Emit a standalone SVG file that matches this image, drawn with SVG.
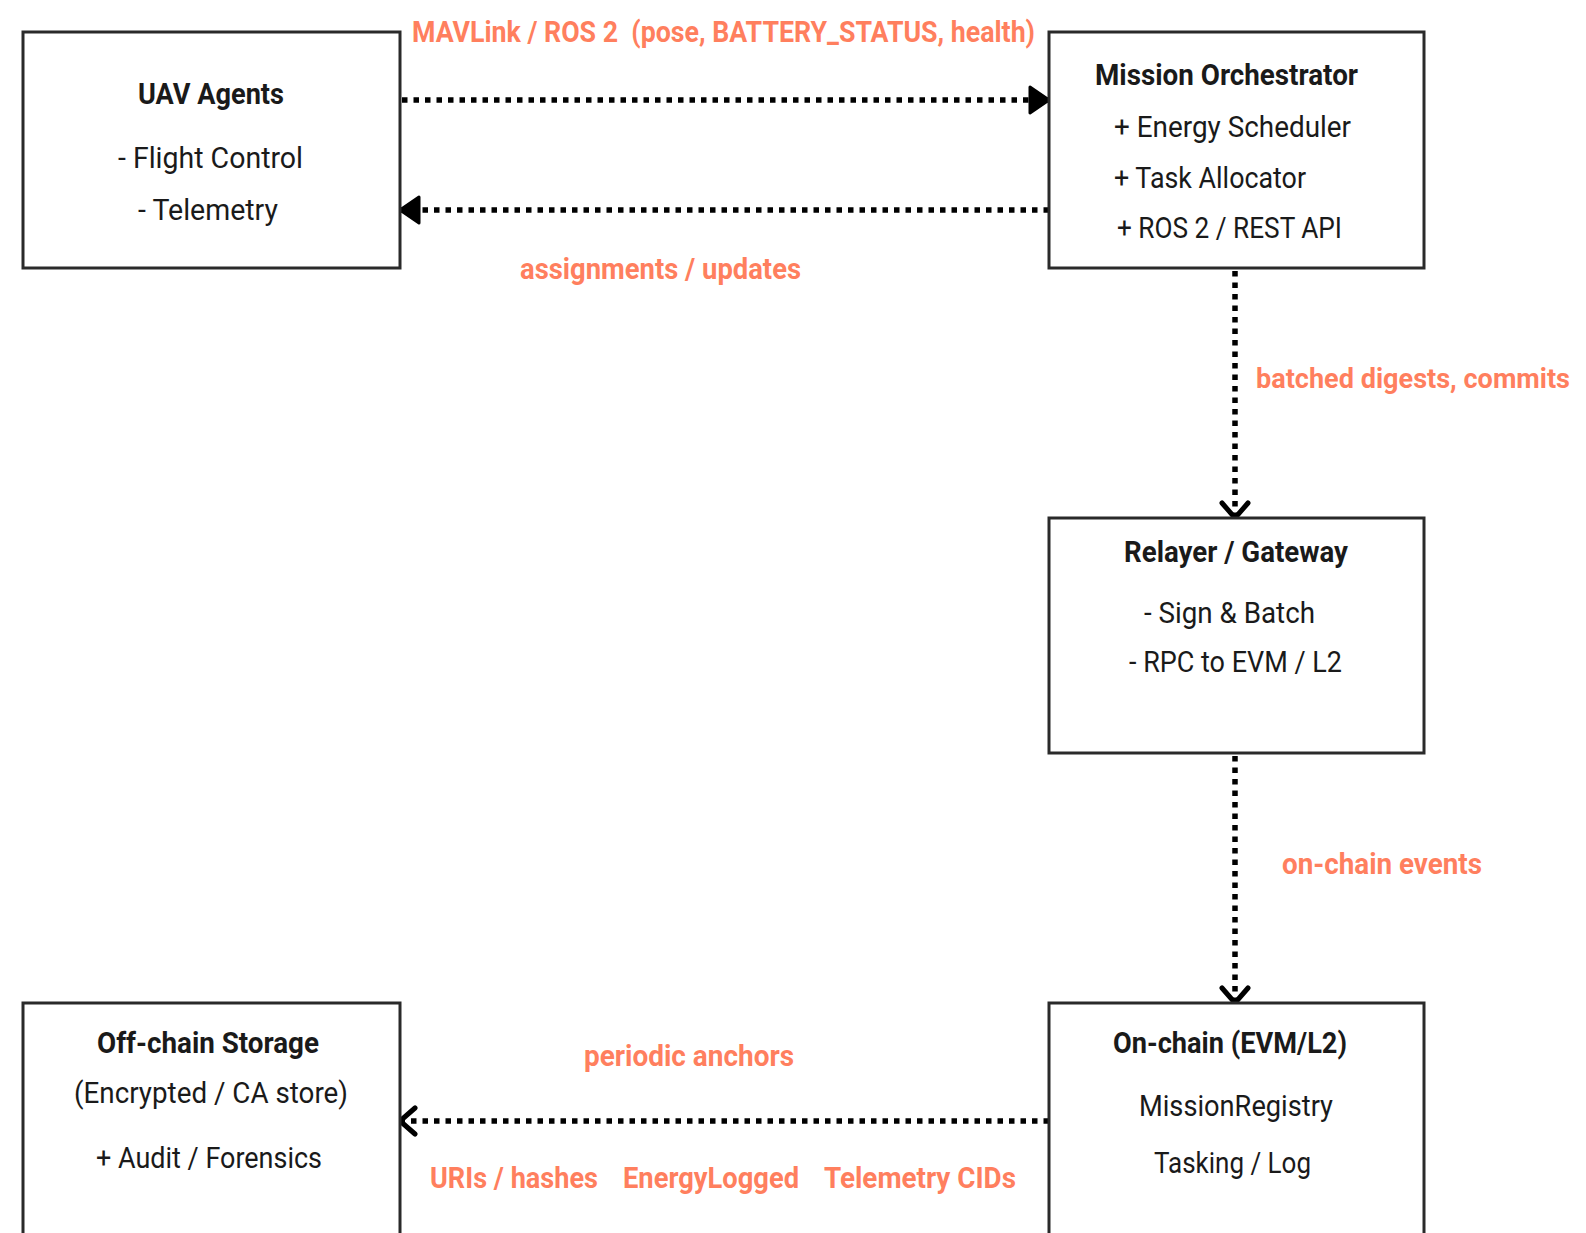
<svg xmlns="http://www.w3.org/2000/svg" width="1586" height="1233" viewBox="0 0 1586 1233">
<defs>
<style>
.box{fill:#fff;stroke:#2a2a2a;stroke-width:3}
.t{font-family:"Roboto","Liberation Sans",sans-serif;font-size:30px;fill:#1a1a1a}
.b{font-weight:bold}
.lbl{font-family:"Roboto","Liberation Sans",sans-serif;font-size:30px;font-weight:bold;fill:#FF7F5E}
.edge{fill:none;stroke:#000;stroke-width:5.5;stroke-dasharray:5.5 6}
</style>
<marker id="block" markerUnits="userSpaceOnUse" markerWidth="24" markerHeight="32" refX="21" refY="16" orient="auto">
<path d="M2,3 L21,16 L2,29 Z" fill="#000" stroke="#000" stroke-width="3" stroke-linejoin="round"/>
</marker>
<marker id="open" markerUnits="userSpaceOnUse" markerWidth="22" markerHeight="32" refX="18" refY="16" orient="auto">
<path d="M3,3 L18,16 L3,29" fill="none" stroke="#000" stroke-width="5" stroke-linejoin="miter" stroke-linecap="round"/>
</marker>
</defs>
<rect width="1586" height="1233" fill="#fff"/>
<g id="connectors">
<path class="edge" d="M402,100 L1049,100" marker-end="url(#block)"/>
<path class="edge" d="M1049,210 L400,210" marker-end="url(#block)"/>
<path class="edge" d="M1235,271 L1235,518" marker-end="url(#open)"/>
<path class="edge" d="M1235,756 L1235,1003" marker-end="url(#open)"/>
<path class="edge" d="M1049,1121 L400,1121" marker-end="url(#open)"/>
<text class="lbl" x="412" y="42" textLength="623" lengthAdjust="spacingAndGlyphs" xml:space="preserve">MAVLink / ROS 2  (pose, BATTERY_STATUS, health)</text>
<text class="lbl" x="520" y="279" textLength="281" lengthAdjust="spacingAndGlyphs">assignments / updates</text>
<text class="lbl" x="1256" y="388" textLength="314" lengthAdjust="spacingAndGlyphs" style="font-size:27px">batched digests, commits</text>
<text class="lbl" x="1282" y="874" textLength="200" lengthAdjust="spacingAndGlyphs">on-chain events</text>
<text class="lbl" x="584" y="1066" textLength="210" lengthAdjust="spacingAndGlyphs">periodic anchors</text>
<text class="lbl" x="430" y="1188" textLength="168" lengthAdjust="spacingAndGlyphs">URIs / hashes</text>
<text class="lbl" x="623" y="1188" textLength="176" lengthAdjust="spacingAndGlyphs">EnergyLogged</text>
<text class="lbl" x="824" y="1188" textLength="192" lengthAdjust="spacingAndGlyphs">Telemetry CIDs</text>
</g>
<g id="uav-agents">
<rect class="box" x="23" y="32" width="377" height="236"/>
<text class="t b" x="138" y="104" textLength="146" lengthAdjust="spacingAndGlyphs">UAV Agents</text>
<text class="t" x="118" y="168" textLength="185" lengthAdjust="spacingAndGlyphs">- Flight Control</text>
<text class="t" x="138" y="220" textLength="140" lengthAdjust="spacingAndGlyphs">- Telemetry</text>
</g>
<g id="mission-orchestrator">
<rect class="box" x="1049" y="32" width="375" height="236"/>
<text class="t b" x="1095" y="85" textLength="263" lengthAdjust="spacingAndGlyphs">Mission Orchestrator</text>
<text class="t" x="1114" y="137" textLength="237" lengthAdjust="spacingAndGlyphs">+ Energy Scheduler</text>
<text class="t" x="1114" y="188" textLength="192" lengthAdjust="spacingAndGlyphs">+ Task Allocator</text>
<text class="t" x="1117" y="238" textLength="225" lengthAdjust="spacingAndGlyphs">+ ROS 2 / REST API</text>
</g>
<g id="relayer-gateway">
<rect class="box" x="1049" y="518" width="375" height="235"/>
<text class="t b" x="1124" y="562" textLength="224" lengthAdjust="spacingAndGlyphs">Relayer / Gateway</text>
<text class="t" x="1144" y="623" textLength="171" lengthAdjust="spacingAndGlyphs">- Sign &amp; Batch</text>
<text class="t" x="1129" y="672" textLength="213" lengthAdjust="spacingAndGlyphs">- RPC to EVM / L2</text>
</g>
<g id="on-chain">
<rect class="box" x="1049" y="1003" width="375" height="245"/>
<text class="t b" x="1113" y="1053" textLength="234" lengthAdjust="spacingAndGlyphs">On-chain (EVM/L2)</text>
<text class="t" x="1139" y="1116" textLength="194" lengthAdjust="spacingAndGlyphs">MissionRegistry</text>
<text class="t" x="1154" y="1173" textLength="157" lengthAdjust="spacingAndGlyphs">Tasking / Log</text>
</g>
<g id="off-chain-storage">
<rect class="box" x="23" y="1003" width="377" height="245"/>
<text class="t b" x="97" y="1053" textLength="222" lengthAdjust="spacingAndGlyphs">Off-chain Storage</text>
<text class="t" x="74" y="1103" textLength="274" lengthAdjust="spacingAndGlyphs">(Encrypted / CA store)</text>
<text class="t" x="96" y="1168" textLength="226" lengthAdjust="spacingAndGlyphs">+ Audit / Forensics</text>
</g>
</svg>
